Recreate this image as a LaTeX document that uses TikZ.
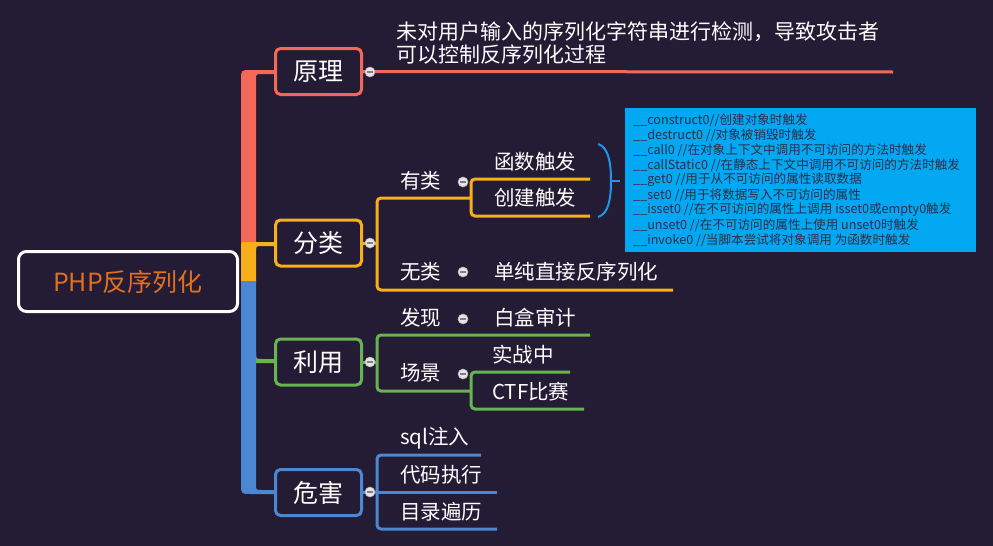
\documentclass[tikz,border=0pt]{standalone}
\usepackage{fontspec}
\setmainfont{Noto Sans CJK SC}
\usetikzlibrary{calc}
\definecolor{bg}{HTML}{241B35}
\definecolor{cred}{HTML}{F2695A}
\definecolor{cyel}{HTML}{F8B01A}
\definecolor{cgrn}{HTML}{68B450}
\definecolor{cblu}{HTML}{4A88D4}
\definecolor{corg}{HTML}{E0701E}
\definecolor{ccall}{HTML}{03A8F2}
\definecolor{cbrace}{HTML}{2196E8}
\definecolor{ctxt}{HTML}{2E2E48}
\begin{document}
\begin{tikzpicture}[x=1pt,y=-1pt,
  topic/.style={draw, line width=3, rounded corners=5, fill=bg, minimum width=86, minimum height=46, inner sep=0, text=white, font=\fontsize{25}{28}\selectfont},
  sub/.style={anchor=west, inner sep=0, text=white, font=\fontsize{20.5}{24}\selectfont},
  coll/.style={circle, fill=white!88!bg, draw=gray!60, line width=0.6, minimum size=10, inner sep=0,
    path picture={\draw[line width=1.2, gray] ([xshift=-2.6pt]path picture bounding box.center) -- ([xshift=2.6pt]path picture bounding box.center);}},
  br/.style={line width=3, rounded corners=4},
  cb/.style={anchor=west, inner sep=0, text=ctxt, font=\fontsize{12.6}{14}\selectfont}
]
\fill[bg] (0,0) rectangle (993,546);
\useasboundingbox (0,0) rectangle (993,546);

% trunk
\fill[cred] (241,250) -- (241,80) .. controls (241,70) .. (251,70) -- (274,70) -- (274,74) -- (262,74) .. controls (256,74) .. (256,80) -- (256,250) -- cycle;
\fill[cyel] (241,282) -- (241,248) .. controls (241,242) .. (247,242) -- (274,242) -- (274,246) -- (262,246) .. controls (256,246) .. (256,252) -- (256,282) -- cycle;
\fill[cgrn] (256,352) .. controls (256,359) .. (262,359) -- (274,359) -- (274,363) -- (256,363) -- cycle;
\fill[cblu] (241,281) -- (241,484) .. controls (241,494) .. (251,494) -- (274,494) -- (274,490) -- (262,490) .. controls (256,490) .. (256,484) -- (256,281) -- cycle;

% central node
\node[draw=white, line width=3, rounded corners=8, fill=bg, minimum width=219, minimum height=60, inner sep=0, text=corg, font=\fontsize{25}{28}\selectfont] (root) at (128,281.5) {PHP反序列化};

% main topics
\node[topic, draw=cred] (yl) at (318.5,71.5) {原理};
\node[topic, draw=cyel] (fl) at (318.5,243) {分类};
\node[topic, draw=cgrn] (ly) at (318.5,362) {利用};
\node[topic, draw=cblu] (wh) at (318.5,492.5) {危害};

% 原理
\draw[cred, line width=3] (yl.east) -- (893,72);
\node[anchor=west, inner sep=0, text=white, align=left, font=\fontsize{21}{23}\selectfont] (yltxt) at (396,43) {未对用户输入的序列化字符串进行检测，导致攻击者\\可以控制反序列化过程};
\node[coll] (cyl) at (370,72) {};

% 分类
\draw[cyel, line width=3] (fl.east) -- (377,243);
\draw[cyel, br] (470,198) -- (377,198) -- (377,290) -- (673,290);
\draw[cyel, br] (590,179) -- (471,179) -- (471,216) -- (590,216);
\node[coll] (cfl) at (370,243) {};
\node[sub] (yl2) at (400,181) {有类};
\node[sub] (wl2) at (400,272) {无类};
\node[coll] (cyl2) at (463,182) {};
\node[coll] (cwl2) at (463,272) {};
\node[sub] (hs) at (494,162) {函数触发};
\node[sub] (cj) at (494,198) {创建触发};
\node[sub] (dc) at (494,272) {单纯直接反序列化};

% brace
\draw[cbrace, line width=2] (598,144) .. controls (609,147) and (611,165) .. (611,181) .. controls (611,197) and (609,214) .. (598,217);
\draw[cbrace, line width=1.5] (611,181) -- (620,181);

% callout
\fill[ccall] (625,108) rectangle (976,252);
\node[cb] (m1) at (633,120) {\_\_construct0//创建对象时触发};
\node[cb] (m2) at (633,135) {\_\_destruct0 //对象被销毁时触发};
\node[cb] (m3) at (633,150) {\_\_call0 //在对象上下文中调用不可访问的方法时触发};
\node[cb] (m4) at (633,165) {\_\_callStatic0 //在静态上下文中调用不可访问的方法时触发};
\node[cb] (m5) at (633,180) {\_\_get0 //用于从不可访问的属性读取数据};
\node[cb] (m6) at (633,195) {\_\_set0 //用于将数据写入不可访问的属性};
\node[cb] (m7) at (633,210) {\_\_isset0 //在不可访问的属性上调用 isset0或empty0触发};
\node[cb] (m8) at (633,225) {\_\_unset0 //在不可访问的属性上使用 unset0时触发};
\node[cb] (m9) at (633,240) {\_\_invoke0 //当脚本尝试将对象调用 为函数时触发};

% 利用
\draw[cgrn, line width=3] (ly.east) -- (377,362);
\draw[cgrn, br] (590,335) -- (377,335) -- (377,391) -- (470,391);
\draw[cgrn, br] (570,372) -- (471,372) -- (471,409) -- (584,409);
\node[coll] (cly) at (370,362) {};
\node[sub] (fx) at (400,318) {发现};
\node[sub] (cjg) at (400,373) {场景};
\node[coll] (cfx) at (463,319) {};
\node[coll] (ccj) at (463,374) {};
\node[sub] (bh) at (494,318) {白盒审计};
\node[sub] (sz) at (492,355) {实战中};
\node[sub] (ctf) at (492,392) {CTF比赛};

% 危害
\draw[cblu, line width=3] (wh.east) -- (377,492);
\draw[cblu, br] (481,455) -- (377,455) -- (377,529) -- (497,529);
\draw[cblu, line width=3] (377,492) -- (497,492);
\node[coll] (cwh) at (370,492) {};
\node[sub] (sql) at (400,438) {sql注入};
\node[sub] (dm) at (400,475) {代码执行};
\node[sub] (ml) at (400,512) {目录遍历};
\end{tikzpicture}
\end{document}
